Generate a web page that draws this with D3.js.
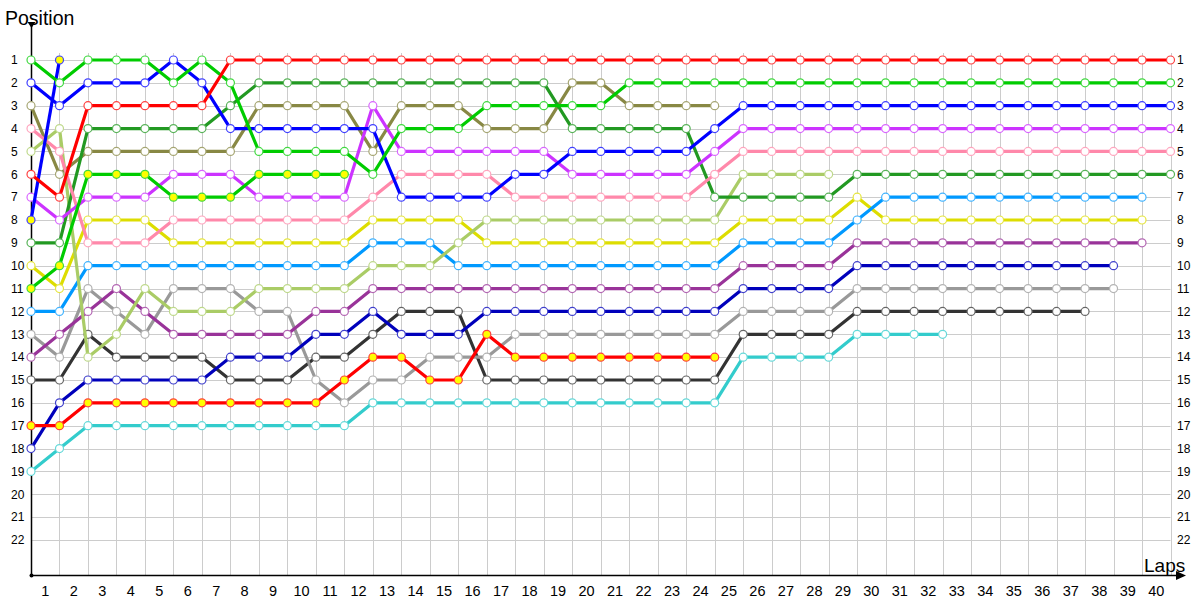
<!DOCTYPE html>
<html><head><meta charset="utf-8">
<script src="https://cdn.jsdelivr.net/npm/d3@7"></script>
<style>body{margin:0;background:#fff} svg{display:block}</style>
</head><body><svg id="c" width="1200" height="600"></svg>
<script>
// ---- data ----
const lapTicks = d3.range(1, 41);          // x labels 1..40
const positionTicks = d3.range(1, 23);     // y labels 1..22
const rep = (v, n) => Array(n).fill(v);

const red        = [6,7,3,3,3,3,3, ...rep(1,34)];
const green      = [1,2,1,1,1,2,1,2,5,5,5,5,6,4,4,4,3,3,3,3,3, ...rep(2,20)];
const blue       = [2,3,2,2,2,1,2,4,4,4,4,4,4,7,7,7,7,6,6,5,5,5,5,5,4, ...rep(3,16)];
const magenta    = [7,8,7,7,7,6,6,6,7,7,7,7,3,5,5,5,5,5,5,6,6,6,6,6,5, ...rep(4,16)];
const pink       = [4,5,9,9,9,8,8,8,8,8,8,8,7,6,6,6,6,7,7,7,7,7,7,7,6, ...rep(5,16)];
const darkGreen  = [9,9,4,4,4,4,4,3, ...rep(2,11), ...rep(4,5), ...rep(7,5), ...rep(6,12)];
const lightBlue  = [12,12, ...rep(10,10), 9,9,9, ...rep(10,10), 9,9,9,9, 8, ...rep(7,10)];
const yellow     = [10,11,8,8,8, ...rep(9,7), ...rep(8,4), ...rep(9,9), ...rep(8,4), 7, ...rep(8,10)];
const purple     = [14,13,12,11,12,13,13,13,13,13,12,12, ...rep(11,13), ...rep(10,4), ...rep(9,11)];
const darkBlue   = [18,16,15,15,15,15,15,14,14,14,13,13,12,13,13,13, ...rep(12,9), ...rep(11,4), ...rep(10,10)];
const gray       = [13,14,11,12,13,11,11,11,12,12,15,16,15,15,14,14,14, ...rep(13,8), ...rep(12,4), ...rep(11,10)];
const darkGray   = [15,15,13,14,14,14,14,15,15,15,14,14,13,12,12,12, ...rep(15,9), ...rep(13,4), ...rep(12,9)];
const cyan       = [19,18, ...rep(17,10), ...rep(16,13), ...rep(14,4), ...rep(13,4)];
const olive      = [3,6,5,5,5,5,5,5,3,3,3,3,5,3,3,3,4,4,4,2,2,3,3,3,3];
const lightGreen = [5,4,14,13,11,12,12,12,11,11,11,11,10,10,10,9,8,8,8,8,8,8,8,8,8,6,6,6,6];
const redYellow  = [17,17,16,16,16,16,16,16,16,16,16,15,14,14,15,15,13,14,14,14,14,14,14,14,14];
const greenYellow= [11,10,6,6,6,7,7,7,6,6,6,6];
const blueYellow = [8,1];

const seriesValues = [cyan, darkGray, gray, darkBlue, purple, yellow, lightBlue, lightGreen, redYellow,
                      olive, darkGreen, pink, magenta, greenYellow, blue, blueYellow, green, red];
const seriesColors = ["#33cccc","#333333","#999999","#0000bb","#993399","#dddd00","#0099ff","#aacc66","#ff0000",
                      "#888844","#229922","#ff88aa","#cc33ff","#00cc00","#0000ff","#0000ff","#00cc00","#ff0000"];
const seriesFills  = ["#fff","#fff","#fff","#fff","#fff","#fff","#fff","#fff","#ffff00",
                      "#fff","#fff","#fff","#fff","#ffff00","#fff","#ffff00","#fff","#fff"];

// ---- chart ----
const svg = d3.select("#c");
const x = d3.scaleLinear().domain([0, 40]).range([31, 1170.5]);
const y = d3.scaleLinear().domain([1, 22]).range([60, 540]);
const axisY = 575;
const font = "'Liberation Sans', Arial, sans-serif";

// grid
const grid = svg.append("g").attr("stroke", "#cccccc").attr("stroke-width", 1);
grid.selectAll("line.v").data(d3.range(0, 41)).join("line")
  .attr("x1", d => Math.round(x(d)) + 0.5).attr("x2", d => Math.round(x(d)) + 0.5)
  .attr("y1", 53).attr("y2", axisY);
grid.selectAll("line.h").data(positionTicks).join("line")
  .attr("x1", 31).attr("x2", x(40))
  .attr("y1", d => Math.round(y(d)) + 0.5).attr("y2", d => Math.round(y(d)) + 0.5);

// axes
svg.append("line").attr("x1", 31.5).attr("x2", 31.5).attr("y1", 24).attr("y2", axisY)
  .attr("stroke", "#000").attr("stroke-width", 1.5);
svg.append("path").attr("d", "M27.5,22 L35.5,22 L31.5,28 Z").attr("fill", "#000");
svg.append("line").attr("x1", 31).attr("x2", 1183).attr("y1", axisY + 0.5).attr("y2", axisY + 0.5)
  .attr("stroke", "#000").attr("stroke-width", 1.5);
svg.append("path").attr("d", `M1176,${axisY-4} L1186,${axisY+0.5} L1176,${axisY+5} Z`).attr("fill", "#000");
svg.append("circle").attr("cx", 31.5).attr("cy", axisY + 0.5).attr("r", 2).attr("fill", "#000");

svg.append("text").attr("x", 5).attr("y", 25).attr("font-family", font).attr("font-size", 19.5)
  .attr("fill", "#000").text("Position");
svg.append("text").attr("x", 1144).attr("y", 572).attr("font-family", font).attr("font-size", 19)
  .attr("fill", "#000").text("Laps");

// tick labels
svg.append("g").selectAll("text").data(positionTicks).join("text")
  .attr("x", 11).attr("y", d => y(d)).attr("dy", "0.36em")
  .attr("font-family", font).attr("font-size", 12).attr("fill", "#000").text(d => d);
svg.append("g").selectAll("text").data(positionTicks).join("text")
  .attr("x", 1177).attr("y", d => y(d)).attr("dy", "0.36em")
  .attr("font-family", font).attr("font-size", 12).attr("fill", "#000").text(d => d);
svg.append("g").selectAll("text").data(lapTicks).join("text")
  .attr("x", d => x(d - 0.5)).attr("y", 596).attr("text-anchor", "middle")
  .attr("font-family", font).attr("font-size", 14.5).attr("fill", "#000").text(d => d);

// series
const line = d3.line().x((d, i) => x(i)).y(d => y(d));
seriesValues.forEach((vals, k) => {
  const g = svg.append("g");
  const ring = d3.interpolateRgb(seriesColors[k], "#ffffff")(0.25);
  g.append("path").attr("d", line(vals)).attr("fill", "none")
    .attr("stroke", seriesColors[k]).attr("stroke-width", 3.2).attr("stroke-linejoin", "round");
  g.selectAll("circle").data(vals).join("circle")
    .attr("cx", (d, i) => x(i)).attr("cy", d => y(d)).attr("r", 4)
    .attr("fill", seriesFills[k]).attr("stroke", ring).attr("stroke-width", 1.2);
});
</script></body></html>
